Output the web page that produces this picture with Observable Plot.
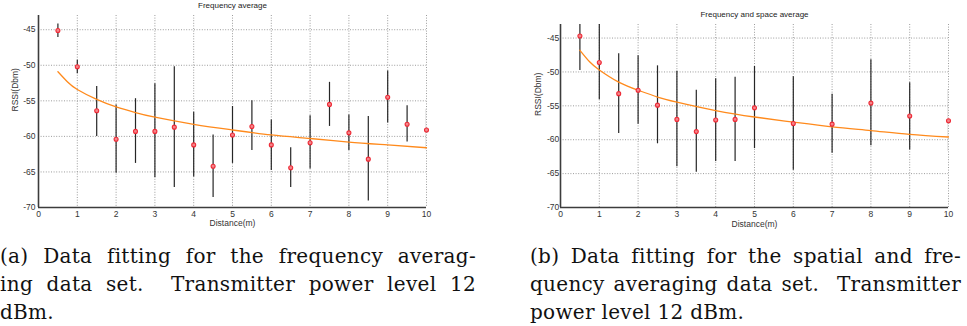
<!DOCTYPE html>
<html><head><meta charset="utf-8">
<script src="https://cdn.jsdelivr.net/npm/d3@7"></script>
<script src="https://cdn.jsdelivr.net/npm/@observablehq/plot@0.6"></script>
<style>
body{margin:0;background:#fff}
#wrap{position:relative;width:967px;height:326px;overflow:hidden;background:#fff}
.chart{position:absolute;top:0}
.cap{position:absolute;font-family:"DejaVu Serif",serif;font-size:20px;letter-spacing:0.3px;line-height:28px;color:#111}
.cap div{white-space:nowrap}
.cap .j{text-align:justify;text-align-last:justify;white-space:normal}
</style></head>
<body><div id="wrap">
<div id="a" class="chart" style="left:0"></div>
<div id="b" class="chart" style="left:500px"></div>
<div class="cap" style="left:0;top:242px;width:476px"><div class="j">(a) Data fitting for the frequency averag-</div><div class="j">ing data set.&nbsp; Transmitter power level 12</div><div>dBm.</div></div>
<div class="cap" style="left:530px;top:242px;width:431px"><div class="j">(b) Data fitting for the spatial and fre-</div><div class="j">quency averaging data set.&nbsp; Transmitter</div><div>power level 12 dBm.</div></div>
</div>
<script>
// ---- shared ticks / domains ----
const xTicks = [0,1,2,3,4,5,6,7,8,9,10];
const yTicks = [-70,-65,-60,-55,-50,-45];
const xDomain = [0,10];
const yDomain = [-70,-43];

// ---- (a) frequency average ----
const titleA = "Frequency average";
const aX    = [0.5,1,1.5,2,2.5,3,3.5,4,4.5,5,5.5,6,6.5,7,7.5,8,8.5,9,9.5,10];
const aMean = [-45.1,-50.2,-56.4,-60.4,-59.3,-59.3,-58.7,-61.2,-64.2,-59.8,-58.6,-61.2,-64.4,-60.9,-55.5,-59.5,-63.2,-54.5,-58.3,-59.1];
const aLow  = [-46.1,-51.2,-60.0,-65.2,-63.8,-65.8,-67.2,-65.7,-68.6,-63.8,-62.0,-64.8,-67.2,-64.6,-58.6,-62.0,-69.1,-58.1,-60.8,-61.9];
const aHigh = [-44.2,-49.3,-53.0,-55.6,-54.7,-52.6,-50.2,-56.6,-59.8,-55.8,-55.0,-57.7,-61.6,-57.1,-52.4,-57.0,-57.2,-50.8,-55.7,-56.2];
const aFitX = [0.5,0.75,1,1.5,2,2.5,3,4,5,6,7,8,9,10];
const aFitY = [-50.9,-52.35,-53.4,-54.8,-55.85,-56.65,-57.3,-58.3,-59.1,-59.8,-60.3,-60.8,-61.2,-61.6];

// ---- (b) frequency and space average ----
const titleB = "Frequency and space average";
const bX    = [0.5,1,1.5,2,2.5,3,3.5,4,4.5,5,6,7,8,9,10];
const bMean = [-44.7,-48.6,-53.2,-52.7,-54.9,-57.0,-58.8,-57.1,-57.0,-55.3,-57.6,-57.7,-54.6,-56.5,-57.2];
const bLow  = [-49.8,-54.1,-59.1,-57.7,-60.6,-64.0,-64.8,-63.2,-63.2,-61.3,-64.5,-62.0,-60.9,-61.5,-61.7];
const bHigh = [-43.0,-43.0,-47.3,-47.6,-49.1,-49.9,-52.7,-51.0,-50.8,-49.2,-50.7,-53.3,-48.2,-51.6,-52.6];
const bFitX = [0.5,0.75,1,1.5,2,2.5,3,4,5,6,7,8,9,10];
const bFitY = [-46.8,-48.5,-49.7,-51.5,-52.7,-53.7,-54.45,-55.7,-56.65,-57.4,-58.1,-58.65,-59.2,-59.6];

const xLabel = "Distance(m)";
const yLabel = "RSSI(Dbm)";

function chart(o){
  const rows = o.xs.map((x,i)=>({x, m:o.mean[i], lo:o.lo[i], hi:o.hi[i]}));
  const fit = o.fitX.map((x,i)=>({x, y:o.fitY[i]}));
  const fmt = d => String(d);
  return Plot.plot({
    width:o.width, height:o.height,
    marginLeft:o.ml, marginRight:o.mr, marginTop:o.mt, marginBottom:o.mb,
    style:{fontFamily:"'Liberation Sans', Arial, sans-serif", fontSize:"8.5px", color:"#333", background:"transparent", overflow:"visible"},
    x:{domain:xDomain},
    y:{domain:yDomain},
    marks:[
      Plot.gridX(xTicks,{stroke:"#9c9c9c", strokeOpacity:1, strokeDasharray:"1,1.6"}),
      Plot.gridY(yTicks,{stroke:"#9c9c9c", strokeOpacity:1, strokeDasharray:"1,1.6"}),
      Plot.axisX(xTicks,{tickSize:0, tickPadding:o.xpad, tickFormat:fmt, label:null}),
      Plot.axisY(yTicks,{tickSize:0, tickPadding:o.ypad, tickFormat:fmt, label:null}),
      Plot.ruleX([xDomain[0]],{stroke:"#3c3c3c", strokeWidth:1.6}),
      Plot.ruleY([yDomain[0]],{stroke:"#3c3c3c", strokeWidth:1.6}),
      Plot.ruleX(rows,{x:"x", y1:"lo", y2:"hi", stroke:"#262626", strokeWidth:1.2, clip:true}),
      Plot.line(fit,{x:"x", y:"y", stroke:"#ff8a1c", strokeWidth:1.3, curve:"natural"}),
      Plot.dot(rows,{x:"x", y:"m", r:2, stroke:"#ee2a36", fill:"#f4858a", strokeWidth:1.1}),
      Plot.text([o.title],{text:d=>d, frameAnchor:"top", lineAnchor:"middle", dy:o.titleDy, fontSize:8, fill:"#222"}),
      Plot.text([xLabel],{text:d=>d, frameAnchor:"bottom", lineAnchor:"middle", dy:o.xlabDy, fontSize:8.5, fill:"#333"}),
      Plot.text([yLabel],{text:d=>d, frameAnchor:"left", lineAnchor:"middle", dx:o.ylabDx, rotate:-90, fontSize:8.5, fill:"#333"})
    ]
  });
}

document.getElementById("a").append(chart({
  xs:aX, mean:aMean, lo:aLow, hi:aHigh, fitX:aFitX, fitY:aFitY, title:titleA,
  width:480, height:232, ml:38, mr:54, mt:15, mb:25, xpad:3.2, ypad:3, titleDy:-10, xlabDy:15.5, ylabDx:-23
}));
document.getElementById("b").append(chart({
  xs:bX, mean:bMean, lo:bLow, hi:bHigh, fitX:bFitX, fitY:bFitY, title:titleB,
  width:467, height:232, ml:60, mr:19, mt:24, mb:25, xpad:3.7, ypad:1.2, titleDy:-9.6, xlabDy:17, ylabDx:-22.5
}));
</script>
</body></html>
